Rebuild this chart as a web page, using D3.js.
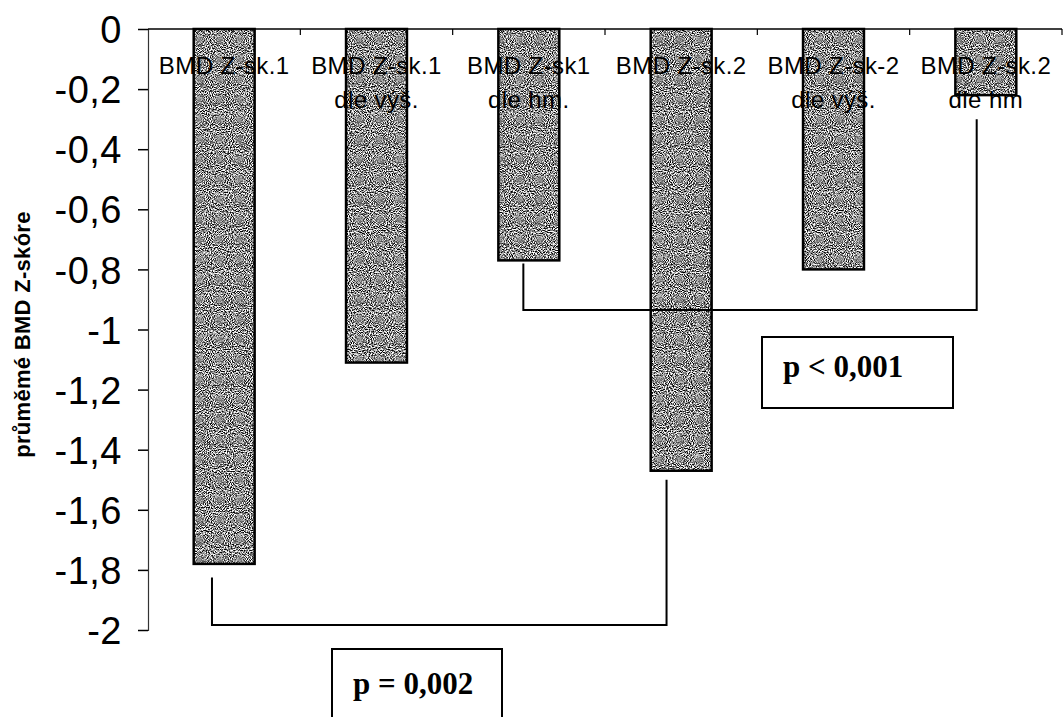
<!DOCTYPE html>
<html>
<head>
<meta charset="utf-8">
<script src="https://cdn.jsdelivr.net/npm/d3@7"></script>
<style>
  html, body { margin: 0; padding: 0; background: #fff; }
  svg { display: block; }
</style>
</head>
<body>
<svg id="chart" width="1064" height="717"></svg>
<script>
// ---- data ----
const categories = ["BMD Z-sk.1", "BMD Z-sk.1\ndle výš.", "BMD Z-sk1\ndle hm.", "BMD Z-sk.2", "BMD Z-sk-2\ndle výš.", "BMD Z-sk.2\ndle hm"];
const values = [-1.78, -1.11, -0.77, -1.47, -0.80, -0.22];
const yTicks = [0, -0.2, -0.4, -0.6, -0.8, -1, -1.2, -1.4, -1.6, -1.8, -2];
const yTickLabels = ["0", "-0,2", "-0,4", "-0,6", "-0,8", "-1", "-1,2", "-1,4", "-1,6", "-1,8", "-2"];
const yTitle = "průměmé BMD Z-skóre";
// significance brackets: bar indices, bracket level and end tips (data units)
const brackets = [
  { from: 0, to: 3, level: -1.983, tips: [-1.825, -1.50], label: "p = 0,002" },
  { from: 2, to: 5, level: -0.935, tips: [-0.78, -0.30], label: "p < 0,001" }
];

// ---- layout ----
const svg = d3.select("#chart");
const pLeft = 148, pRight = 1062, pTop = 29, pBottom = 630;

const x = d3.scaleBand().domain(d3.range(categories.length))
  .range([pLeft, pRight]).paddingInner(0.6).paddingOuter(0.3);
const y = d3.scaleLinear().domain([0, -2]).range([pTop, pBottom]);

// stippled grey texture via noise filter
const defs = svg.append("defs");
const f = defs.append("filter").attr("id", "stipple")
  .attr("x", 0).attr("y", 0).attr("width", 1).attr("height", 1)
  .attr("color-interpolation-filters", "sRGB");
f.append("feTurbulence").attr("type", "fractalNoise").attr("baseFrequency", 0.95)
  .attr("numOctaves", 1).attr("seed", 7).attr("result", "t");
f.append("feColorMatrix").attr("in", "t").attr("type", "matrix")
  .attr("values", "3.2 0 0 0 -1.05  3.2 0 0 0 -1.05  3.2 0 0 0 -1.05  0 0 0 0 1")
  .attr("result", "g");
f.append("feComposite").attr("in", "g").attr("in2", "SourceGraphic").attr("operator", "in");

// bars: textured fill + outline
const barG = svg.append("g");
barG.selectAll("rect.fill").data(values).join("rect")
  .attr("class", "fill")
  .attr("x", (d, i) => x(i))
  .attr("y", y(0))
  .attr("width", x.bandwidth())
  .attr("height", d => y(d) - y(0))
  .attr("fill", "#888")
  .attr("filter", "url(#stipple)");
barG.selectAll("rect.edge").data(values).join("rect")
  .attr("class", "edge")
  .attr("x", (d, i) => x(i))
  .attr("y", y(0))
  .attr("width", x.bandwidth())
  .attr("height", d => y(d) - y(0))
  .attr("fill", "none")
  .attr("stroke", "#000")
  .attr("stroke-width", 2.5);

// y axis
const yAxis = svg.append("g").attr("transform", `translate(${pLeft},0)`)
  .call(d3.axisLeft(y).tickValues(yTicks).tickSize(10).tickPadding(16)
    .tickFormat((d, i) => yTickLabels[i]));
yAxis.select(".domain").attr("stroke", "#333").attr("stroke-width", 1.2);
yAxis.selectAll(".tick line").attr("stroke", "#000").attr("stroke-width", 1.5);
yAxis.selectAll(".tick text")
  .attr("font-family", "'Liberation Sans', Arial, sans-serif")
  .attr("font-size", 38).attr("letter-spacing", "0.5px")
  .attr("fill", "#000").attr("dy", "0.36em");

// x axis at zero (top)
const xAxisG = svg.append("g");
xAxisG.append("line").attr("x1", pLeft).attr("x2", pRight).attr("y1", y(0)).attr("y2", y(0))
  .attr("stroke", "#000").attr("stroke-width", 1.5);
xAxisG.selectAll("line.tk").data(d3.range(1, categories.length + 1)).join("line")
  .attr("class", "tk")
  .attr("x1", i => x(i - 1) + x.bandwidth() / 2 + x.step() / 2)
  .attr("x2", i => x(i - 1) + x.bandwidth() / 2 + x.step() / 2)
  .attr("y1", y(0)).attr("y2", y(0) + 6)
  .attr("stroke", "#000").attr("stroke-width", 1.2);

// category labels
const labG = svg.append("g")
  .attr("font-family", "'Liberation Sans', Arial, sans-serif")
  .attr("font-size", 24).attr("letter-spacing", "0.4px")
  .attr("text-anchor", "middle").attr("fill", "#000");
categories.forEach((c, i) => {
  c.split("\n").forEach((line, j) => {
    labG.append("text")
      .attr("x", x(i) + x.bandwidth() / 2)
      .attr("y", 74 + j * 34)
      .text(line);
  });
});

// y title
svg.append("text")
  .attr("transform", `translate(30,${(pTop + pBottom) / 2 + 5}) rotate(-90)`)
  .attr("text-anchor", "middle")
  .attr("font-family", "'Liberation Sans', Arial, sans-serif")
  .attr("font-weight", "bold").attr("font-size", 22).attr("letter-spacing", "0.3px")
  .attr("fill", "#000")
  .text(yTitle);

// significance brackets
const tipOffsets = [[0.30, 0.26], [0.41, 0.35]];
const boxes = [
  { x: 332, y: 649, w: 170, h: 90, tx: 353, ty: 694 },
  { x: 762, y: 337, w: 191, h: 71, tx: 783, ty: 377 }
];
brackets.forEach((b, k) => {
  const x1 = x(b.from) + x.bandwidth() * tipOffsets[k][0];
  const x2 = x(b.to) + x.bandwidth() * tipOffsets[k][1];
  const yl = y(b.level);
  svg.append("path")
    .attr("d", `M${x1},${y(b.tips[0])}V${yl}H${x2}V${y(b.tips[1])}`)
    .attr("fill", "none").attr("stroke", "#000").attr("stroke-width", 2);
  const bx = boxes[k];
  svg.append("rect").attr("x", bx.x).attr("y", bx.y).attr("width", bx.w).attr("height", bx.h)
    .attr("fill", "#fff").attr("stroke", "#000").attr("stroke-width", 2);
  svg.append("text").attr("x", bx.tx).attr("y", bx.ty)
    .attr("font-family", "'Liberation Serif', 'Times New Roman', serif")
    .attr("font-weight", "bold").attr("font-size", 31).attr("fill", "#000")
    .text(b.label);
});
</script>
</body>
</html>
